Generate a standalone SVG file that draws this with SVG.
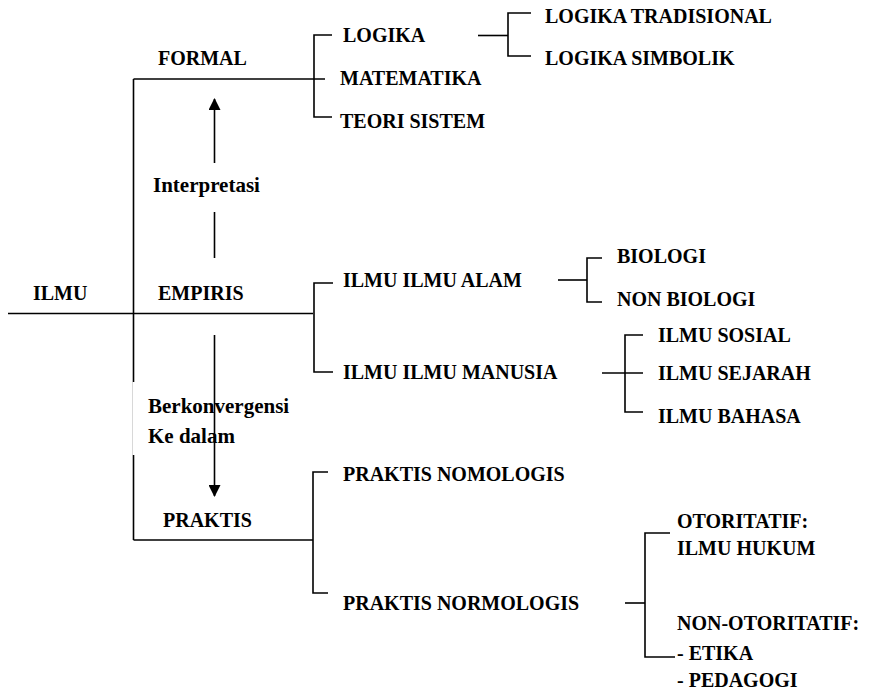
<svg xmlns="http://www.w3.org/2000/svg" width="873" height="692" viewBox="0 0 873 692">
<style>
text{font-family:"Liberation Serif","Times New Roman",serif;font-weight:bold;font-size:20px;fill:#000}
text.lc{font-size:21px}
.c{stroke:#000;stroke-width:1.6;fill:none}
.faint{stroke:#d8d8d8;stroke-width:1;fill:none}
</style>
<defs>
<marker id="ah" viewBox="0 0 12 12" refX="11" refY="6" markerWidth="12" markerHeight="12" markerUnits="userSpaceOnUse" orient="auto">
<path d="M0,0 L12,6 L0,12 z" fill="#000"/>
</marker>
</defs>
<rect width="873" height="692" fill="#fff"/>
<g id="connectors">
<path class="c" d="M8,313.5 H313"/>
<path class="c" d="M133.5,79 V382"/>
<path class="c" d="M133.5,455 V540"/>
<path class="faint" d="M132.5,382 V455"/>
<path class="c" d="M133.5,79 H325"/>
<path class="c" d="M133.5,540 H313"/>
<path class="c" d="M332,35 H314 V117 H332"/>
<path class="c" d="M478,35.5 H508"/>
<path class="c" d="M531,13 H508 V56 H531"/>
<path class="c" d="M333,283 H314 V372 H333"/>
<path class="c" d="M558,280 H587"/>
<path class="c" d="M602,258 H587 V302 H602"/>
<path class="c" d="M602,373 H643"/>
<path class="c" d="M643,335 H625 V412 H643"/>
<path class="c" d="M328,472 H313 V593 H328"/>
<path class="c" d="M625,603 H645"/>
<path class="c" d="M670,533 H645 V657 H675"/>
<path class="c" d="M214.5,163 V99" marker-end="url(#ah)"/>
<path class="c" d="M214.5,212 V258"/>
</g>
<g id="ilmu"><text x="33" y="300">ILMU</text></g>
<g id="formal"><text x="158" y="65">FORMAL</text></g>
<g id="empiris"><text x="158" y="300">EMPIRIS</text></g>
<g id="praktis"><text x="163" y="527">PRAKTIS</text></g>
<g id="interpretasi"><text class="lc" x="153" y="192">Interpretasi</text></g>
<g id="berkonvergensi"><text class="lc" x="148" y="413">Berkonvergensi</text><text class="lc" x="148" y="443">Ke dalam</text></g>
<g id="arrow-down"><path class="c" d="M214.5,335 V496" marker-end="url(#ah)"/></g>
<g id="logika"><text x="343" y="42">LOGIKA</text></g>
<g id="matematika"><text x="340" y="85">MATEMATIKA</text></g>
<g id="teori-sistem"><text x="340" y="128">TEORI SISTEM</text></g>
<g id="logika-tradisional"><text x="545" y="23">LOGIKA TRADISIONAL</text></g>
<g id="logika-simbolik"><text x="545" y="65">LOGIKA SIMBOLIK</text></g>
<g id="ilmu-alam"><text x="343" y="287">ILMU ILMU ALAM</text></g>
<g id="ilmu-manusia"><text x="343" y="379">ILMU ILMU MANUSIA</text></g>
<g id="biologi"><text x="617" y="263">BIOLOGI</text></g>
<g id="non-biologi"><text x="617" y="306">NON BIOLOGI</text></g>
<g id="ilmu-sosial"><text x="658" y="342">ILMU SOSIAL</text></g>
<g id="ilmu-sejarah"><text x="658" y="380">ILMU SEJARAH</text></g>
<g id="ilmu-bahasa"><text x="658" y="423">ILMU BAHASA</text></g>
<g id="praktis-nomologis"><text x="343" y="481">PRAKTIS NOMOLOGIS</text></g>
<g id="praktis-normologis"><text x="343" y="610">PRAKTIS NORMOLOGIS</text></g>
<g id="otoritatif"><text x="677" y="528">OTORITATIF:</text><text x="677" y="555">ILMU HUKUM</text></g>
<g id="non-otoritatif"><text x="677" y="630">NON-OTORITATIF:</text><text x="677" y="660">- ETIKA</text><text x="677" y="687">- PEDAGOGI</text></g>
</svg>
